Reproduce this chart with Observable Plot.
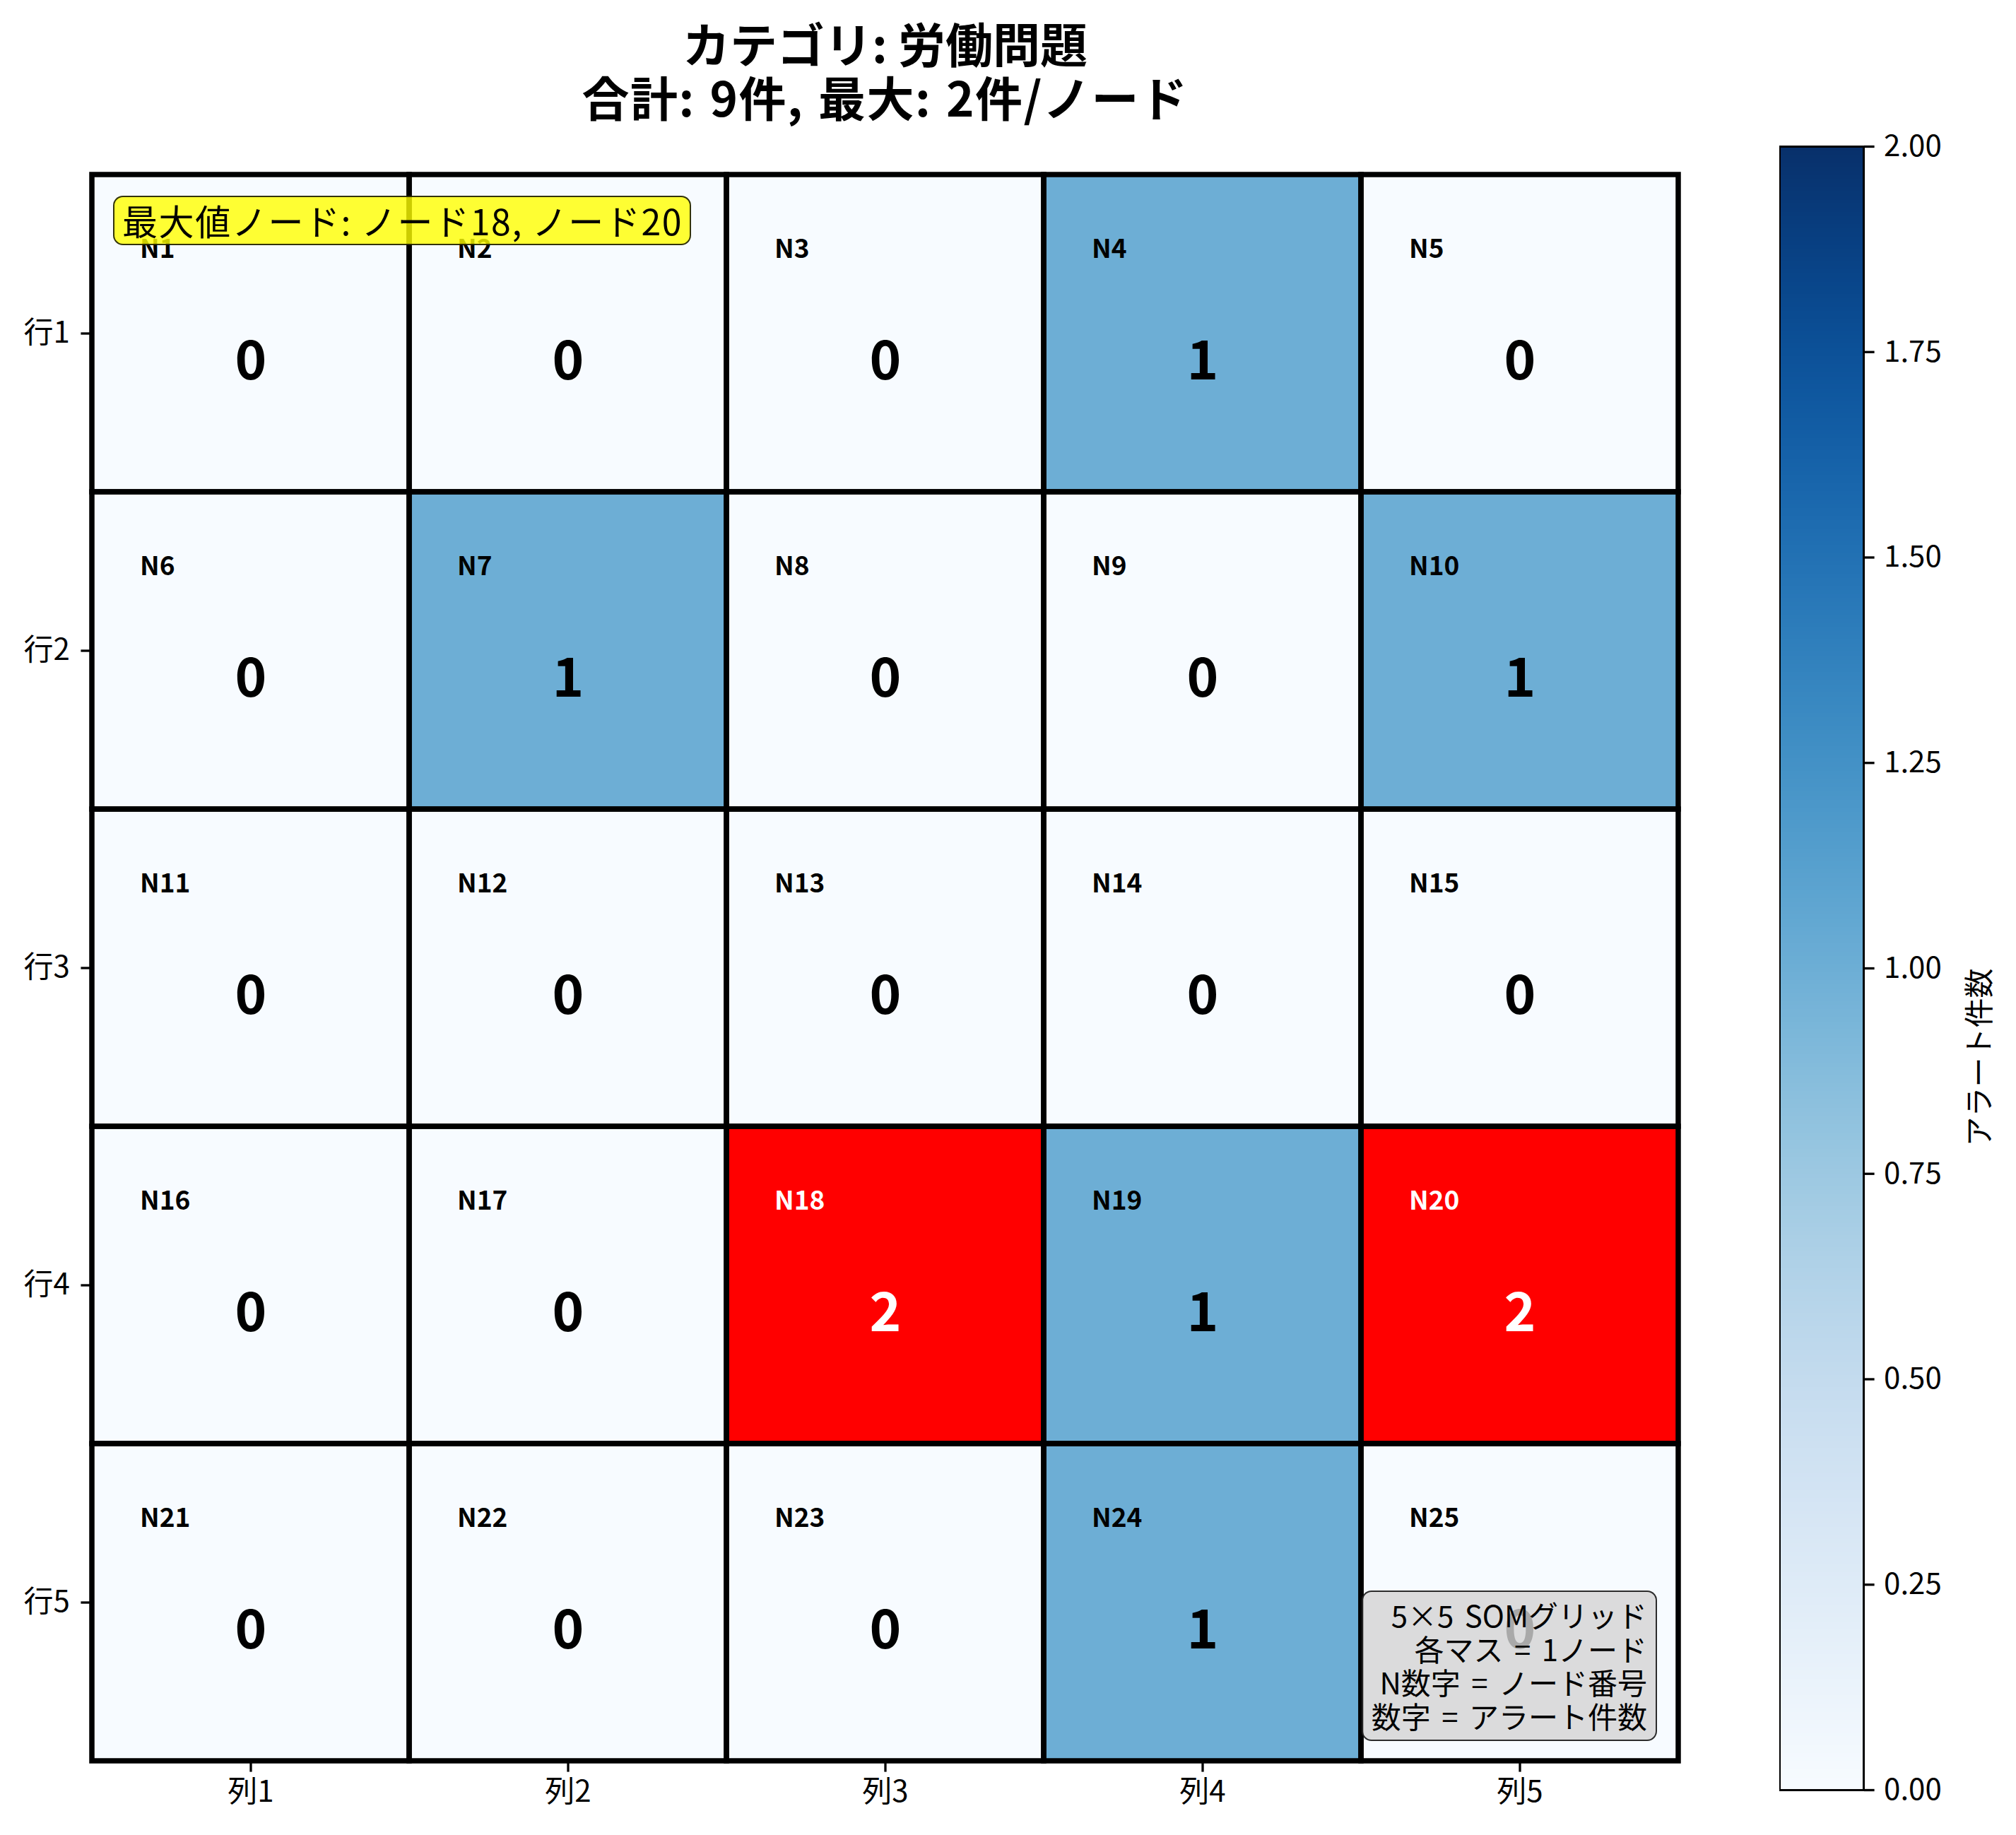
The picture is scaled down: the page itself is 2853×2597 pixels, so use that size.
<!DOCTYPE html>
<html><head><meta charset="utf-8">
<script src="https://cdn.jsdelivr.net/npm/d3@7"></script>
<script src="https://cdn.jsdelivr.net/npm/@observablehq/plot@0.6"></script>
<style>
body{margin:0;background:#fff;font-family:"Noto Sans CJK JP",sans-serif;}
#root{position:relative;width:2853px;height:2597px;overflow:hidden;}
#title{position:absolute;left:129px;top:22px;width:2247px;text-align:center;font-weight:bold;font-size:67px;line-height:76px;color:#000;}
#title .l2{letter-spacing:1.5px;word-spacing:4px;}
#main{position:absolute;left:0;top:200px;}
#cbar{position:absolute;left:2518px;top:157px;}
#maxnote{position:absolute;left:160px;top:277px;height:70px;box-sizing:border-box;padding:0 10px 0 11px;background:rgba(255,255,0,0.8);border:2.5px solid rgba(0,0,0,0.8);border-radius:14px;font-size:50px;line-height:65px;white-space:nowrap;letter-spacing:1.6px;}
#legendbox{position:absolute;right:508px;top:2251px;box-sizing:border-box;height:213px;padding:8px 12px 0 12px;background:rgba(211,211,211,0.8);border:2.5px solid rgba(0,0,0,0.8);border-radius:14px;font-size:42px;line-height:47.5px;text-align:right;white-space:nowrap;word-spacing:6px;}
</style></head><body><div id="root"></div>
<script>
const rowLabels = ["行1", "行2", "行3", "行4", "行5"];
const colLabels = ["列1", "列2", "列3", "列4", "列5"];
const row1Counts = [0, 0, 0, 1, 0];
const row2Counts = [0, 1, 0, 0, 1];
const row3Counts = [0, 0, 0, 0, 0];
const row4Counts = [0, 0, 2, 1, 2];
const row5Counts = [0, 0, 0, 1, 0];
const nodeLabels = ["N1","N2","N3","N4","N5","N6","N7","N8","N9","N10","N11","N12","N13","N14","N15","N16","N17","N18","N19","N20","N21","N22","N23","N24","N25"];
const colorbarTicks = [0, 0.25, 0.5, 0.75, 1, 1.25, 1.5, 1.75, 2];
const colorbarLabel = "アラート件数";
const titleLines = ["カテゴリ: 労働問題", "合計: 9件, 最大: 2件/ノード"];
const maxNote = "最大値ノード: ノード18, ノード20";
const legendLines = ["5×5 SOMグリッド", "各マス = 1ノード", "N数字 = ノード番号", "数字 = アラート件数"];

const FONT = '"Noto Sans CJK JP", sans-serif';
const counts = [row1Counts, row2Counts, row3Counts, row4Counts, row5Counts];
const cells = counts.flatMap((r, i) => r.map((v, j) => ({row: rowLabels[i], col: colLabels[j], value: v, node: nodeLabels[i * 5 + j]})));
const maxV = d3.max(cells, d => d.value);
const isMax = d => d.value === maxV;

const root = document.getElementById("root");

const title = document.createElement("div");
title.id = "title";
const t1 = document.createElement("div"); t1.textContent = titleLines[0];
const t2 = document.createElement("div"); t2.className = "l2"; t2.textContent = titleLines[1];
title.appendChild(t1); title.appendChild(t2);
root.appendChild(title);

const main = Plot.plot({
  width: 2440, height: 2397,
  marginTop: 46, marginLeft: 129, marginRight: 64, marginBottom: 104,
  x: {domain: colLabels, padding: 0, label: null, axis: null},
  y: {domain: rowLabels, padding: 0, label: null, axis: null},
  color: {type: "linear", scheme: "blues", domain: [0, 2]},
  style: {fontFamily: FONT, fontSize: "42px", background: "transparent", color: "black"},
  marks: [
    Plot.cell(cells, {x: "col", y: "row", fill: "value", inset: 0}),
    Plot.cell(cells.filter(isMax), {x: "col", y: "row", fill: "red", inset: 0}),
    Plot.text(cells, {x: "col", y: "row", text: "node", textAnchor: "start", dx: -157, dy: -119, fontSize: 37, fontWeight: "bold", fill: d => isMax(d) ? "white" : "black"}),
    Plot.text(cells, {x: "col", y: "row", text: d => String(d.value), dy: 41, fontSize: 76, fontWeight: "bold", fill: d => isMax(d) ? "white" : "black"}),
    Plot.cell(cells, {x: "col", y: "row", fill: "none", stroke: "black", strokeWidth: 7.5, inset: 0}),
    Plot.axisX({anchor: "bottom", tickSize: 14.6, tickPadding: 12, fontSize: 42, strokeWidth: 3.3, label: null}),
    Plot.axisY({anchor: "left", tickSize: 14.6, tickPadding: 16, fontSize: 42, strokeWidth: 3.3, label: null})
  ]
});
main.id = "main";
root.appendChild(main);

const step = 0.005;
const ramp = d3.range(0, 2, step);
const cb = Plot.plot({
  width: 119 + 300, height: 2326 + 100,
  marginTop: 50, marginBottom: 50, marginLeft: 0, marginRight: 300,
  x: {axis: null, domain: [0, 1]},
  y: {domain: [0, 2], axis: null},
  color: {type: "linear", scheme: "blues", domain: [0, 2]},
  style: {fontFamily: FONT, fontSize: "42px", background: "transparent", color: "black"},
  marks: [
    Plot.rect(ramp, {x1: 0, x2: 1, y1: d => d, y2: d => Math.min(2, d + step * 1.5), fill: d => d + step / 2, shapeRendering: "crispEdges"}),
    Plot.frame({stroke: "black", strokeWidth: 3}),
    Plot.axisY(colorbarTicks, {anchor: "right", tickFormat: d3.format(".2f"), tickSize: 14.6, tickPadding: 14, fontSize: 42, strokeWidth: 3.3, label: null}),
    Plot.text([colorbarLabel], {frameAnchor: "right", rotate: -90, dx: 165, fontSize: 42, fill: "black"})
  ]
});
cb.id = "cbar";
root.appendChild(cb);

const note = document.createElement("div");
note.id = "maxnote";
note.textContent = maxNote;
root.appendChild(note);

const lb = document.createElement("div");
lb.id = "legendbox";
lb.innerHTML = legendLines.join("<br>");
root.appendChild(lb);
</script></body></html>
